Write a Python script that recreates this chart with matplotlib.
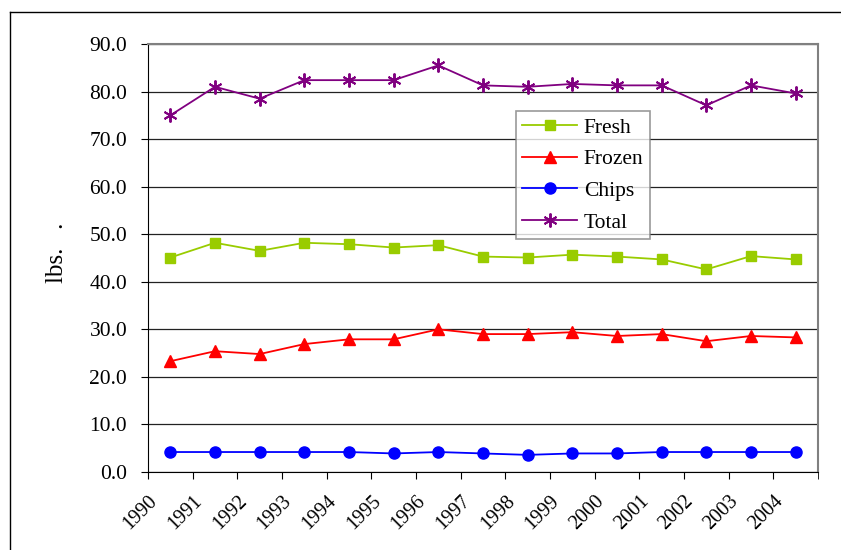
import numpy as np
import matplotlib.pyplot as plt
from matplotlib.lines import Line2D

years = [str(y) for y in range(1990, 2005)]
fresh = [45.1, 48.2, 46.5, 48.2, 47.9, 47.2, 47.7, 45.3, 45.1, 45.7, 45.3, 44.7, 42.6, 45.4, 44.7]
frozen = [23.3, 25.4, 24.8, 26.9, 27.9, 27.9, 30.0, 29.0, 29.0, 29.4, 28.6, 29.0, 27.5, 28.6, 28.3]
chips = [4.2, 4.2, 4.2, 4.2, 4.2, 3.9, 4.2, 3.9, 3.6, 3.9, 3.9, 4.2, 4.2, 4.2, 4.2]
total = [75.0, 81.0, 78.5, 82.4, 82.4, 82.4, 85.5, 81.3, 81.0, 81.6, 81.3, 81.3, 77.1, 81.3, 79.6]

plt.rcParams['font.family'] = ['Liberation Serif', 'DejaVu Serif']

fig = plt.figure(figsize=(8.41, 5.5), dpi=100)
ax = fig.add_axes([148 / 841, 1 - 472 / 550, (818 - 148) / 841, (472 - 44) / 550])

x = np.arange(len(years))
ax.plot(x, fresh, color='#99CC00', marker='s', markersize=7.5, linewidth=1.3, label='Fresh')
ax.plot(x, frozen, color='#FF0000', marker='^', markersize=8, linewidth=1.3, label='Frozen')
ax.plot(x, chips, color='#0000FF', marker='o', markersize=8, linewidth=1.3, label='Chips')
ax.plot(x, total, color='#800080', marker=(6, 2, 0), markersize=10, markeredgewidth=1.4,
        linewidth=1.3, label='Total')

ax.set_xlim(-0.5, len(years) - 0.5)
ax.set_ylim(0, 90)
ax.set_yticks(np.arange(0, 91, 10))
ax.set_yticklabels(['%.1f' % v for v in np.arange(0, 91, 10)], fontsize=15.5)
ax.set_xticks(x - 0.5)
ax.set_xticks([len(years) - 0.5], minor=True)
ax.set_xticklabels(years, rotation=45, ha='right', rotation_mode='anchor', fontsize=14.5)
ax.tick_params(axis='x', which='both', direction='out', length=5, color='black', pad=9)
ax.tick_params(axis='y', direction='out', length=5, pad=10)
ax.grid(axis='y', color='#222222', linewidth=0.9)
ax.set_axisbelow(True)

for s in ['top', 'right']:
    ax.spines[s].set_color('#808080')
    ax.spines[s].set_linewidth(1.5)
ax.spines['left'].set_color('black')
ax.spines['bottom'].set_color('black')

ax.set_ylabel('lbs.   .', fontsize=18)
ax.yaxis.set_label_coords(-0.12, 0.512)

leg = ax.legend(loc='upper left', bbox_to_anchor=((516 - 148) / 670, 1 - (111 - 44) / 428),
                fontsize=15.5, frameon=True, fancybox=False, edgecolor='#808080',
                borderpad=0.3, labelspacing=0.54, handlelength=2.55, handletextpad=0.3,
                borderaxespad=0)
leg.get_frame().set_linewidth(1.2)

fig.add_artist(Line2D([10 / 841, 1], [1 - 12 / 550, 1 - 12 / 550], color='black', linewidth=1))
fig.add_artist(Line2D([10 / 841, 10 / 841], [0, 1 - 12 / 550], color='black', linewidth=1))

fig.savefig('out.png')
